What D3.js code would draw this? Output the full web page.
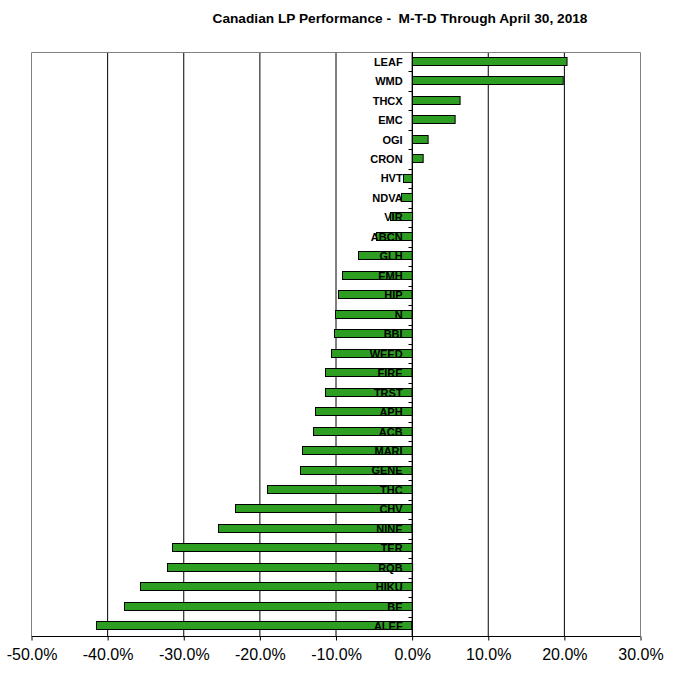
<!DOCTYPE html>
<html><head><meta charset="utf-8">
<script src="https://cdn.jsdelivr.net/npm/d3@7"></script>
<style>body{margin:0;background:#fff}svg{display:block}</style>
</head><body>
<script>
const categories = ["LEAF","WMD","THCX","EMC","OGI","CRON","HVT","NDVA","VIR","ABCN","GLH","EMH","HIP","N","BBI","WEED","FIRE","TRST","APH","ACB","MARI","GENE","THC","CHV","NINE","TER","RQB","HIKU","BE","ALEF"];
const values = [20.3,19.8,6.25,5.6,2.05,1.4,-1.15,-1.45,-2.9,-4.7,-7.05,-9.15,-9.65,-10.05,-10.2,-10.6,-11.35,-11.35,-12.7,-12.95,-14.4,-14.65,-19.0,-23.2,-25.4,-31.5,-32.2,-35.7,-37.8,-41.4];
const xTicks = [-50,-40,-30,-20,-10,0,10,20,30];
const title = "Canadian LP Performance -  M-T-D Through April 30, 2018";

const W = 683, H = 673;
const L = 31, R = 640, T = 52, B = 636;
const svg = d3.select("body").append("svg").attr("width", W).attr("height", H);

const x = d3.scaleLinear().domain([-50, 30]).range([L, R]);
const y = d3.scaleBand().domain(categories).range([T, B]).padding(0);

// gridlines
svg.append("g").selectAll("line").data(xTicks.filter(d => d > -50 && d < 30)).join("line")
  .attr("x1", d => x(d) + 0.5).attr("x2", d => x(d) + 0.5)
  .attr("y1", T).attr("y2", B).attr("stroke", "#000").attr("stroke-width", 1);

// plot border (top, left, right)
svg.append("path").attr("d", `M${L+0.5},${B}V${T+0.5}H${R+0.5}V${B}`)
  .attr("fill", "none").attr("stroke", "#808080").attr("stroke-width", 1);

// bars
const bh = 8;
svg.append("g").selectAll("rect").data(categories).join("rect")
  .attr("x", (d, i) => Math.round(x(Math.min(0, values[i]))) + 0.5)
  .attr("width", (d, i) => Math.abs(x(values[i]) - x(0)))
  .attr("y", d => Math.round(y(d) + y.bandwidth() / 2 - bh / 2) - 0.5)
  .attr("height", bh)
  .attr("fill", "#2D9E22").attr("stroke", "#000").attr("stroke-width", 1);

// zero axis with tick marks at category boundaries
const zx = Math.round(x(0)) + 0.5;
svg.append("line").attr("x1", zx).attr("x2", zx).attr("y1", T).attr("y2", B)
  .attr("stroke", "#000");
svg.append("g").selectAll("line").data(d3.range(1, categories.length)).join("line")
  .attr("x1", zx - 4).attr("x2", zx)
  .attr("y1", i => Math.round(T + i * y.bandwidth()) + 0.5)
  .attr("y2", i => Math.round(T + i * y.bandwidth()) + 0.5)
  .attr("stroke", "#000");

// category labels
svg.append("g").selectAll("text").data(categories).join("text")
  .attr("x", x(0) - 9).attr("y", d => y(d) + y.bandwidth() / 2)
  .attr("dy", "0.36em")
  .attr("text-anchor", "end")
  .attr("font-family", "Liberation Sans, Arial, sans-serif")
  .attr("font-weight", "bold").attr("font-size", 11).attr("fill", "#000")
  .text(d => d);

// bottom axis
const xAxis = d3.axisBottom(x).tickValues(xTicks).tickSize(4).tickPadding(8)
  .tickFormat(d => d.toFixed(1) + "%");
const ax = svg.append("g").attr("transform", `translate(0.5,${B + 0.5})`).call(xAxis);
ax.select(".domain").attr("stroke", "#000").attr("d", `M${L},0H${R}`);
ax.selectAll(".tick line").attr("stroke", "#000");
ax.selectAll("text").attr("font-family", "Liberation Sans, Arial, sans-serif")
  .attr("font-size", 16).attr("fill", "#000");

// title
svg.append("text").attr("x", 400).attr("y", 23).attr("text-anchor", "middle")
  .attr("font-family", "Liberation Sans, Arial, sans-serif").attr("font-weight", "bold")
  .attr("font-size", 13.7).style("white-space", "pre").text(title);
</script>
</body></html>
